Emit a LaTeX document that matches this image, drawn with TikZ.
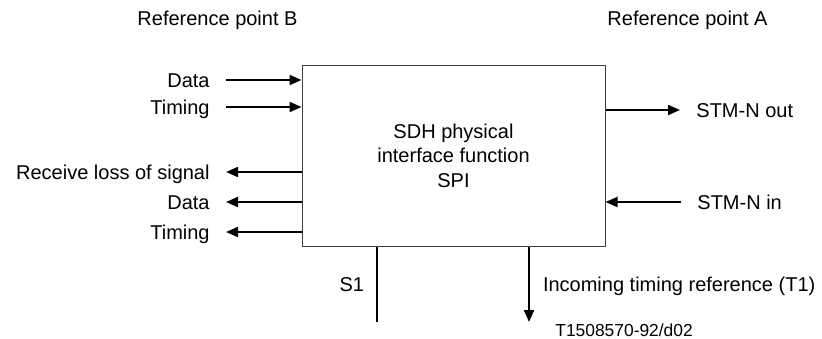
\documentclass[tikz,border=0pt]{standalone}
\usepackage{fontspec}
\setmainfont{Liberation Sans}
\usetikzlibrary{arrows.meta,positioning}

\begin{document}
\begin{tikzpicture}[
  x=0.5pt, y=-0.5pt,
  spibox/.style={draw=black!75, line width=0.5pt, minimum width=151.5pt,
    minimum height=90.5pt, align=center, inner sep=0pt,
    font=\fontsize{10}{12.25}\selectfont},
  lbl/.style={font=\fontsize{10}{12}\selectfont, inner xsep=8pt, inner ysep=0pt,
    text height=7.2pt, text depth=0pt},
  sig/.style={line width=1pt, -{Triangle[length=6pt, width=5pt]}},
  bare/.style={line width=1pt}
]
  \useasboundingbox (0,0) rectangle (822,338);

  % Block
  \node[spibox] (spi) at (453.5,155.5) {SDH physical\\interface function\\SPI};

  % Reference points
  \node[lbl] (refB) at (217.5,18) {Reference point B};
  \node[lbl] (refA) at (687.5,18) {Reference point A};

  % Reference point B side
  \node[lbl, anchor=east] (dataB)   at (226,80)  {Data};
  \node[lbl, anchor=east] (timeB)   at (226,107) {Timing};
  \node[lbl, anchor=east] (rlos)    at (226,172) {Receive loss of signal};
  \node[lbl, anchor=east] (dataOut) at (226,202) {Data};
  \node[lbl, anchor=east] (timeOut) at (226,232) {Timing};

  \draw[sig] (dataB) -- (dataB -| spi.west);
  \draw[sig] (timeB) -- (timeB -| spi.west);
  \draw[sig] (rlos -| spi.west) -- (rlos);
  \draw[sig] (dataOut -| spi.west) -- (dataOut);
  \draw[sig] (timeOut -| spi.west) -- (timeOut);

  % Reference point A side
  \node[lbl, anchor=west] (stmOut) at (680,110) {STM-N out};
  \node[lbl, anchor=west] (stmIn)  at (681,202) {STM-N in};

  \draw[sig] (stmOut -| spi.east) -- (stmOut);
  \draw[sig] (stmIn) -- (stmIn -| spi.east);

  % Bottom
  \coordinate (s1end) at (377,322);
  \coordinate (t1end) at (529,322);
  \draw[bare] (s1end |- spi.south) -- (s1end)
    node[midway, left, lbl, inner xsep=6pt] {S1};
  \draw[sig] (t1end |- spi.south) -- (t1end)
    node[midway, right, lbl, inner xsep=6.5pt] {Incoming timing reference (T1)};

  \node[font=\fontsize{8.7}{10}\selectfont, anchor=west, inner sep=0pt] (tag)
    at (555,330) {T1508570-92/d02};
\end{tikzpicture}
\end{document}
